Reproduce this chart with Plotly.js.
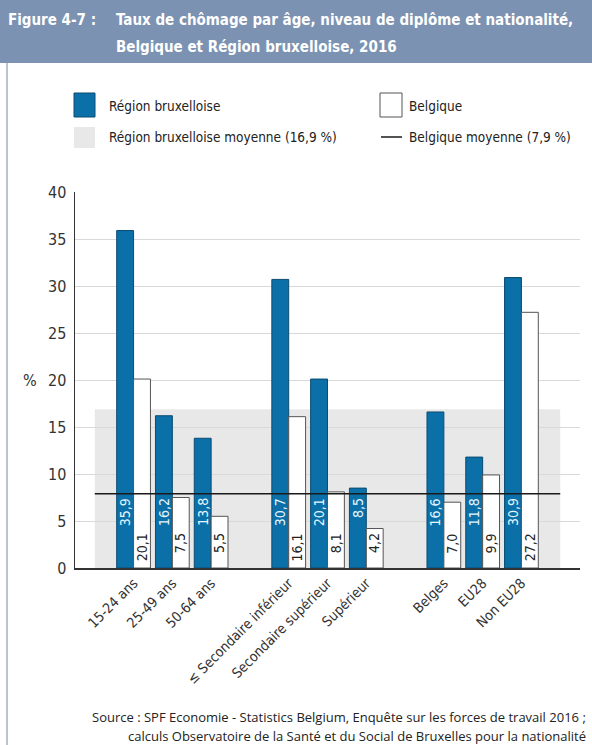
<!DOCTYPE html>
<html><head><meta charset="utf-8">
<script src="https://cdn.plot.ly/plotly-3.0.1.min.js"></script>
<style>body{margin:0;background:#fff}</style>
</head><body><div id="chart" style="width:592px;height:745px"></div>
<script>
// ---- data ----
const categories = ["15-24 ans","25-49 ans","50-64 ans","≤ Secondaire inférieur","Secondaire supérieur","Supérieur","Belges","EU28","Non EU28"];
const groups = ["Âge","Âge","Âge","Diplôme","Diplôme","Diplôme","Nationalité","Nationalité","Nationalité"];
const bruxelles = [35.9,16.2,13.8,30.7,20.1,8.5,16.6,11.8,30.9];
const belgique = [20.1,7.5,5.5,16.1,8.1,4.2,7.0,9.9,27.2];
const bruxellesMoyenne = 16.9;
const belgiqueMoyenne = 7.9;
const yTicks = [0,5,10,15,20,25,30,35,40];
const seriesNames = ["Région bruxelloise","Belgique","Région bruxelloise moyenne (16,9 %)","Belgique moyenne (7,9 %)"];
const titleLabel = "Figure 4-7 :";
const titleLines = ["Taux de chômage par âge, niveau de diplôme et nationalité,","Belgique et Région bruxelloise, 2016"];
const sourceLines = ["Source : SPF Economie - Statistics Belgium, Enquête sur les forces de travail 2016 ;","calculs Observatoire de la Santé et du Social de Bruxelles pour la nationalité"];

// ---- derived positions (one empty slot between groups) ----
const groupOrder = [...new Set(groups)];
const xpos = categories.map((c,i)=> i + groupOrder.indexOf(groups[i]));
const fmt = v => v.toFixed(1).replace('.', ',');

// ---- geometry ----
const W=592,H=745,L=75,R=12,T=192,B=177;
const pw=W-L-R, ph=H-T-B;
const px = x => (x-L)/pw;
const py = y => (H-B-y)/ph;

const COND = "'DejaVu Sans Condensed','Liberation Sans Narrow',sans-serif";
const BLUE = "#0b6fa8", BLUE_EDGE = "#0b4c72";
const bargap = 0.13;
const off = (1-bargap)/4;
const xmin = Math.min(...xpos), xmax = Math.max(...xpos);

const traces = [
  {type:'bar', x:xpos, y:bruxelles, name:seriesNames[0],
   marker:{color:BLUE, line:{color:BLUE_EDGE,width:1}}, hoverinfo:'skip', showlegend:false},
  {type:'bar', x:xpos, y:belgique, name:seriesNames[1],
   marker:{color:'#ffffff', line:{color:'#555555',width:1}}, hoverinfo:'skip', showlegend:false}
];

const shapes = [
  // header band
  {type:'rect', xref:'paper', yref:'paper', x0:px(0), x1:px(W), y0:py(0), y1:py(63),
   fillcolor:'#7b92b2', line:{width:0}, layer:'below'},
  // left frame line
  {type:'line', xref:'paper', yref:'paper', x0:px(7), x1:px(7), y0:py(63), y1:py(H),
   line:{color:'#b9c5d5', width:2}},
  // Brussels average band
  {type:'rect', xref:'x', yref:'y', x0:xmin-1, x1:xmax+1, y0:0, y1:bruxellesMoyenne,
   fillcolor:'#e8e8e9', line:{width:0}, layer:'below'},
  // Belgium average line
  {type:'line', xref:'x', yref:'y', x0:xmin-1, x1:xmax+1, y0:belgiqueMoyenne, y1:belgiqueMoyenne,
   line:{color:'#1a1a1a', width:1.5}, layer:'above'},
  // legend symbols
  {type:'rect', xref:'paper', yref:'paper', x0:px(74), x1:px(95), y0:py(93), y1:py(117),
   fillcolor:BLUE, line:{color:BLUE_EDGE,width:1}},
  {type:'rect', xref:'paper', yref:'paper', x0:px(74), x1:px(95), y0:py(127), y1:py(148),
   fillcolor:'#e8e8e9', line:{width:0}},
  {type:'rect', xref:'paper', yref:'paper', x0:px(380), x1:px(402), y0:py(93), y1:py(117),
   fillcolor:'#ffffff', line:{color:'#555555',width:1}},
  {type:'line', xref:'paper', yref:'paper', x0:px(381), x1:px(402), y0:py(137), y1:py(137),
   line:{color:'#1a1a1a',width:1.5}}
];

const annotations = [];
// title
annotations.push({xref:'paper',yref:'paper',x:px(6),y:py(20),xanchor:'left',yanchor:'middle',showarrow:false,
  text:'<b>'+titleLabel+'</b>', font:{family:COND,size:15,color:'#ffffff'}});
titleLines.forEach((t,i)=>annotations.push({xref:'paper',yref:'paper',x:px(114),y:py(20+27*i),xanchor:'left',yanchor:'middle',showarrow:false,
  text:'<b>'+t+'</b>', font:{family:COND,size:15,color:'#ffffff'}}));
// legend texts
[[107,106,seriesNames[0]],[407,106,seriesNames[1]],[107,137,seriesNames[2]],[407,137,seriesNames[3]]].forEach(([x,y,t])=>
  annotations.push({xref:'paper',yref:'paper',x:px(x),y:py(y),xanchor:'left',yanchor:'middle',showarrow:false,
   text:t, font:{family:COND,size:13.5,color:'#222222'}}));
// % label
annotations.push({xref:'paper',yref:'paper',x:px(30),y:py(380),xanchor:'center',yanchor:'middle',showarrow:false,
  text:'%', font:{family:COND,size:16,color:'#333333'}});
// value labels
xpos.forEach((x,i)=>{
  annotations.push({xref:'x',yref:'y',x:x-off,y:belgiqueMoyenne-0.25,xanchor:'center',yanchor:'top',showarrow:false,
    textangle:-90, text:fmt(bruxelles[i]), font:{family:COND,size:14,color:'#e6f6ff'}});
  annotations.push({xref:'x',yref:'y',x:x+off,y:3.9,xanchor:'center',yanchor:'top',showarrow:false,
    textangle:-90, text:fmt(belgique[i]), font:{family:COND,size:14,color:'#222222'}});
});
// source
sourceLines.forEach((t,i)=>annotations.push({xref:'paper',yref:'paper',x:px(588),y:py(717+19*i),xanchor:'right',yanchor:'middle',showarrow:false,
  text:t, font:{family:"'Open Sans','Liberation Sans',sans-serif",size:13,color:'#222222'}}));

const layout = {
  width:W, height:H, margin:{l:L,r:R,t:T,b:B,pad:0},
  paper_bgcolor:'#ffffff', plot_bgcolor:'rgba(0,0,0,0)',
  barmode:'group', bargap:bargap, bargroupgap:0,
  showlegend:false,
  xaxis:{range:[xmin-1.51,xmax+1.51], tickvals:xpos, ticktext:categories, tickangle:-45,
    showgrid:false, zeroline:false, showline:true, linecolor:'#333333', linewidth:1.5, ticks:'',
    tickfont:{family:COND,size:14,color:'#333333'}, fixedrange:true},
  yaxis:{range:[0,40], tickvals:yTicks, showgrid:true, gridcolor:'#d9d9d9', gridwidth:1,
    zeroline:false, showline:true, linecolor:'#333333', linewidth:1.5, ticks:'',
    tickfont:{family:COND,size:16,color:'#333333'}, ticklabelstandoff:4, fixedrange:true},
  shapes:shapes, annotations:annotations
};

Plotly.newPlot('chart', traces, layout, {displayModeBar:false, staticPlot:true});
</script>
</body></html>
